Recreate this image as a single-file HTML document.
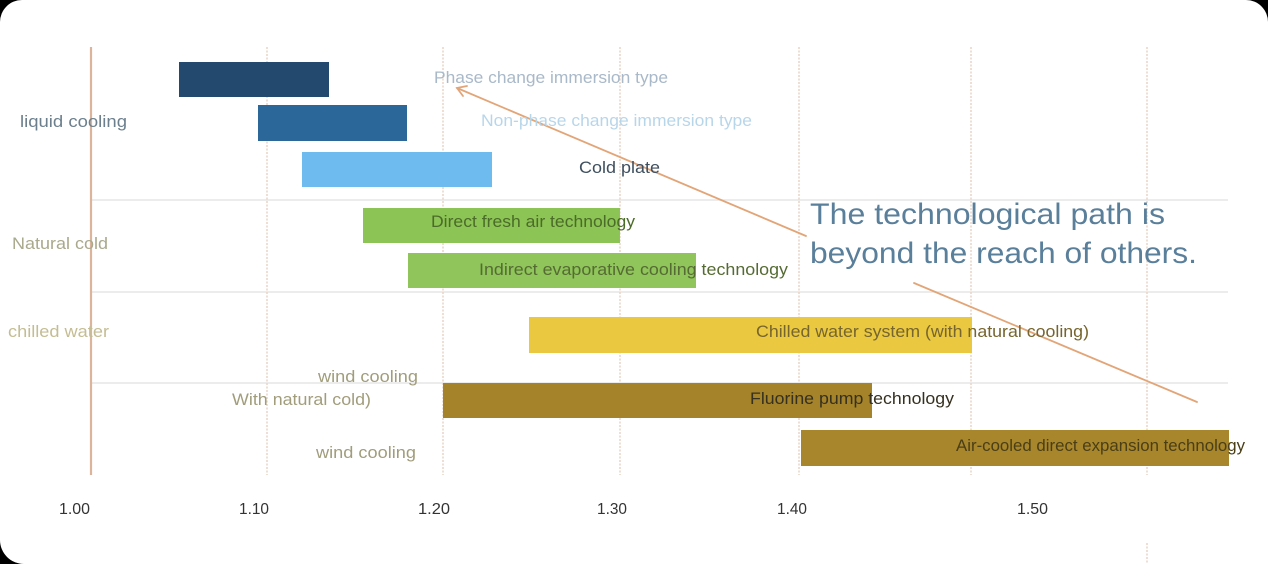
<!DOCTYPE html>
<html><head><meta charset="utf-8"><style>
html,body{margin:0;padding:0;background:#000;width:1268px;height:564px;overflow:hidden}
.card{position:absolute;left:0;top:0;width:1268px;height:564px;background:#fff;border-radius:22px 22px 0 24px;overflow:hidden}
svg{position:absolute;left:0;top:0}
text{font-family:"Liberation Sans",sans-serif}
</style></head><body>
<div class="card">
<svg width="1268" height="564" viewBox="0 0 1268 564" xmlns="http://www.w3.org/2000/svg">
  <!-- horizontal grid -->
  <g stroke="#e6e6e6" stroke-width="1.5">
    <line x1="90" y1="200" x2="1228" y2="200"/>
    <line x1="90" y1="292" x2="1228" y2="292"/>
    <line x1="90" y1="383" x2="1228" y2="383"/>
  </g>
  <!-- vertical grid -->
  <g stroke="#e9d6c8" stroke-width="1.6" stroke-dasharray="2,1.5">
    <line x1="267" y1="47" x2="267" y2="475"/>
    <line x1="443" y1="47" x2="443" y2="475"/>
    <line x1="620" y1="47" x2="620" y2="475"/>
    <line x1="799" y1="47" x2="799" y2="475"/>
    <line x1="971" y1="47" x2="971" y2="475"/>
    <line x1="1147" y1="47" x2="1147" y2="475"/>
    <line x1="1147" y1="543" x2="1147" y2="564"/>
  </g>
  <line x1="91" y1="47" x2="91" y2="475" stroke="#dcb49c" stroke-width="2.2"/>

  <!-- bars -->
  <rect x="179" y="62" width="150" height="35" fill="#234a6e"/>
  <rect x="258" y="105" width="149" height="36" fill="#2c679a"/>
  <rect x="302" y="152" width="190" height="35" fill="#6dbbef"/>
  <rect x="363" y="208" width="257" height="35" fill="#8cc455"/>
  <rect x="408" y="253" width="288" height="35" fill="#8fc55a"/>
  <rect x="529" y="317" width="443" height="36" fill="#eac83f"/>
  <rect x="443" y="383" width="429" height="35" fill="#a5832a"/>
  <rect x="801" y="430" width="428" height="36" fill="#a8862b"/>

  <!-- arrow -->
  <g stroke="#e2a578" stroke-width="1.8" fill="none" stroke-linecap="round">
    <line x1="457" y1="88" x2="806" y2="236"/>
    <line x1="914" y1="283" x2="1197" y2="402"/>
    <polyline points="467,86 457,88 463,96"/>
  </g>

  <!-- bar labels -->
  <g font-size="16.5">
    <text x="434" y="83" fill="#a9b9c9" textLength="234" lengthAdjust="spacingAndGlyphs">Phase change immersion type</text>
    <text x="481" y="126" fill="#b8d6ea" textLength="271" lengthAdjust="spacingAndGlyphs">Non-phase change immersion type</text>
    <text x="579" y="173" fill="#3e4f60" textLength="81" lengthAdjust="spacingAndGlyphs">Cold plate</text>
    <text x="431" y="227" fill="#4b6b28" textLength="204" lengthAdjust="spacingAndGlyphs">Direct fresh air technology</text>
    <text x="479" y="275" fill="#556b33" textLength="309" lengthAdjust="spacingAndGlyphs">Indirect evaporative cooling technology</text>
    <text x="756" y="337" fill="#76652e" textLength="333" lengthAdjust="spacingAndGlyphs">Chilled water system (with natural cooling)</text>
    <text x="750" y="404" fill="#35301f" textLength="204" lengthAdjust="spacingAndGlyphs">Fluorine pump technology</text>
    <text x="956" y="451" fill="#4a3e17" textLength="289" lengthAdjust="spacingAndGlyphs">Air-cooled direct expansion technology</text>
  </g>

  <!-- category labels -->
  <g font-size="16.5">
    <text x="20" y="127" fill="#6b7f8d" textLength="107" lengthAdjust="spacingAndGlyphs">liquid cooling</text>
    <text x="12" y="249" fill="#a9a98c" textLength="96" lengthAdjust="spacingAndGlyphs">Natural cold</text>
    <text x="8" y="337" fill="#c4bd93" textLength="101" lengthAdjust="spacingAndGlyphs">chilled water</text>
    <text x="318" y="382" fill="#a19d7c" textLength="100" lengthAdjust="spacingAndGlyphs">wind cooling</text>
    <text x="232" y="405" fill="#a19d7c" textLength="139" lengthAdjust="spacingAndGlyphs">With natural cold)</text>
    <text x="316" y="458" fill="#a19d7c" textLength="100" lengthAdjust="spacingAndGlyphs">wind cooling</text>
    <text x="-5" y="405" fill="#6a6a5a">)</text>
  </g>

  <!-- big annotation -->
  <g font-size="30" fill="#5a7f9b">
    <text x="810" y="224" textLength="355" lengthAdjust="spacingAndGlyphs">The technological path is</text>
    <text x="810" y="263" textLength="387" lengthAdjust="spacingAndGlyphs">beyond the reach of others.</text>
  </g>

  <!-- x axis labels -->
  <g font-size="16" fill="#333">
    <text x="59" y="514" textLength="31" lengthAdjust="spacingAndGlyphs">1.00</text>
    <text x="239" y="514" textLength="30" lengthAdjust="spacingAndGlyphs">1.10</text>
    <text x="418" y="514" textLength="32" lengthAdjust="spacingAndGlyphs">1.20</text>
    <text x="597" y="514" textLength="30" lengthAdjust="spacingAndGlyphs">1.30</text>
    <text x="777" y="514" textLength="30" lengthAdjust="spacingAndGlyphs">1.40</text>
    <text x="1017" y="514" textLength="31" lengthAdjust="spacingAndGlyphs">1.50</text>
  </g>
</svg>
</div>
</body></html>
